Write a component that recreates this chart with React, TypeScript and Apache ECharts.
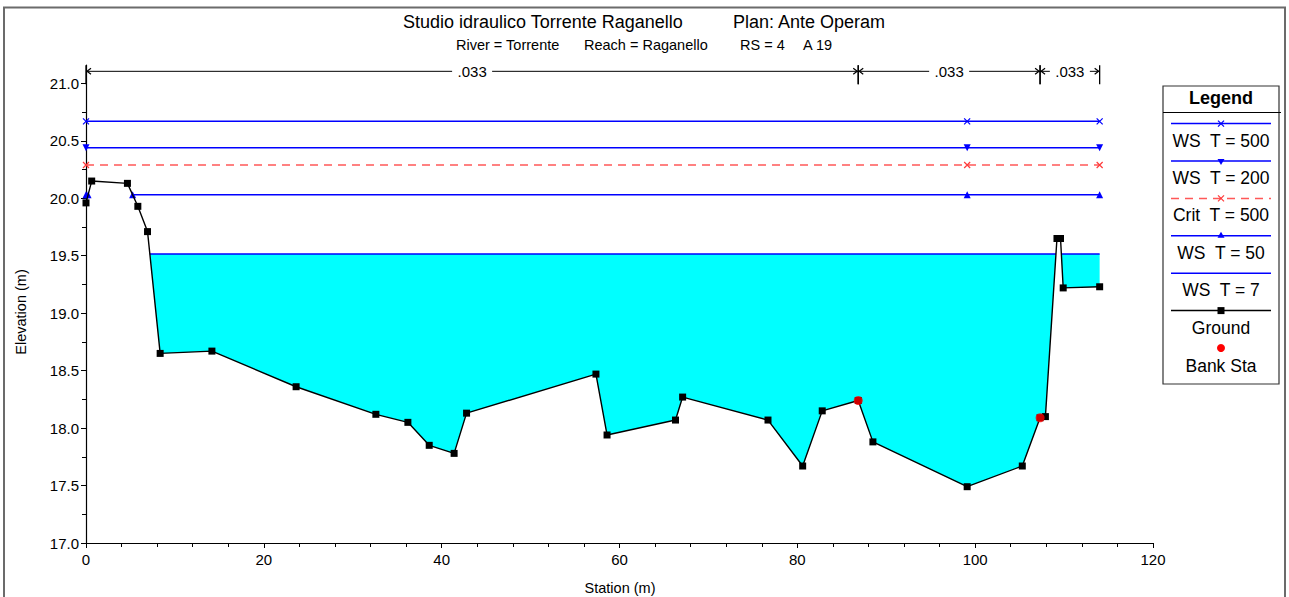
import { useEffect, useRef } from 'react';
import * as echarts from 'echarts';

// ---- data ----
const stations = [0, 0.64, 4.66, 5.83, 6.92, 8.34, 14.16, 23.63, 32.6, 36.2, 38.6, 41.4, 42.8, 57.35, 58.6, 66.3, 67.1, 76.7, 80.6, 82.8, 86.85, 88.5, 99.1, 105.3, 107.3, 107.9, 109.2, 109.6, 109.9, 114.0];
const elevations = [19.96, 20.15, 20.13, 19.93, 19.71, 18.65, 18.67, 18.36, 18.12, 18.05, 17.85, 17.78, 18.13, 18.47, 17.94, 18.07, 18.27, 18.07, 17.67, 18.15, 18.24, 17.88, 17.49, 17.67, 18.09, 18.10, 19.65, 19.65, 19.22, 19.23];
const bankStations = [86.85, 107.3];
const profileNames = ['WS  T = 500', 'WS  T = 200', 'Crit  T = 500', 'WS  T = 50', 'WS  T = 7'];
const profileLevels = [20.67, 20.44, 20.29, 20.03, 19.515];
const nBreaks = [0, 86.85, 107.3, 114];
const nValues = ['.033', '.033', '.033'];
const nLevel = 21.105;
const yTickValues = [17.0, 17.5, 18.0, 18.5, 19.0, 19.5, 20.0, 20.5, 21.0];
const titleParts = ['Studio idraulico Torrente Raganello', 'Plan: Ante Operam'];
const subtitleParts = ['River = Torrente', 'Reach = Raganello', 'RS = 4', 'A 19'];

// ---- styles ----
const BLUE = '#0000ff';
const RED = '#ff3b3b';
const FONT = 'Liberation Sans, Arial, sans-serif';
const XPATH = 'path://M0,0L10,10M10,0L0,10';
const DOWN_TRI = 'path://M0,0L10,0L5,9Z';
const profileStyles = [
  { color: BLUE, symbol: XPATH, dashed: false, marker: 'x' },
  { color: BLUE, symbol: DOWN_TRI, dashed: false, marker: 'down' },
  { color: RED, symbol: XPATH, dashed: true, marker: 'x' },
  { color: BLUE, symbol: 'triangle', dashed: false, marker: 'up' },
  { color: BLUE, symbol: 'none', dashed: false, marker: 'none' },
];

function wetRegions(level: number): number[][][] {
  const regions: number[][][] = [];
  let cur: number[][] | null = null;
  const n = stations.length;
  for (let i = 0; i < n; i++) {
    const x = stations[i];
    const z = elevations[i];
    if (i > 0) {
      const x0 = stations[i - 1];
      const z0 = elevations[i - 1];
      if ((z0 < level) !== (z < level)) {
        const xi = x0 + ((x - x0) * (level - z0)) / (z - z0);
        if (cur) {
          cur.push([xi, level]);
          regions.push(cur);
          cur = null;
        } else {
          cur = [[xi, level]];
        }
      }
    }
    if (z < level) {
      if (!cur) cur = [[x, level]];
      cur.push([x, z]);
    }
  }
  if (cur) {
    cur.push([stations[n - 1], level]);
    regions.push(cur);
  }
  return regions;
}

function groundAt(x: number): number {
  for (let i = 1; i < stations.length; i++) {
    if (x <= stations[i]) {
      const t = (x - stations[i - 1]) / (stations[i] - stations[i - 1]);
      return elevations[i - 1] + t * (elevations[i] - elevations[i - 1]);
    }
  }
  return elevations[elevations.length - 1];
}

function buildOption(): any {
  let minIdx = 0;
  elevations.forEach((e, i) => {
    if (e < elevations[minIdx]) minIdx = i;
  });
  const thalweg = stations[minIdx];

  const series: any[] = [];

  // water fill of the lowest profile
  const lowest = profileLevels.length - 1;
  const fillRegions = wetRegions(profileLevels[lowest]);
  series.push({
    type: 'custom',
    z: 1,
    silent: true,
    data: fillRegions.map((r, i) => [r[0][0], profileLevels[lowest], i]),
    renderItem: (_p: any, api: any) => {
      const reg = fillRegions[api.value(2)];
      return {
        type: 'polygon',
        shape: { points: reg.map((pt) => api.coord(pt)) },
        style: { fill: '#00ffff', stroke: 'none' },
      };
    },
  });

  profileLevels.forEach((lv, pi) => {
    const st = profileStyles[pi];
    wetRegions(lv).forEach((reg) => {
      const x0 = reg[0][0];
      const x1 = reg[reg.length - 1][0];
      const pts: number[][] = [[x0, lv]];
      if (thalweg > x0 && thalweg < x1) pts.push([thalweg, lv]);
      pts.push([x1, lv]);
      series.push({
        type: 'line',
        name: profileNames[pi],
        z: 3,
        data: pts,
        symbol: st.symbol,
        symbolSize: st.marker === 'x' ? 6 : 7,
        showSymbol: st.symbol !== 'none',
        lineStyle: { color: st.color, width: 1.5, type: st.dashed ? [8, 6] : 'solid', opacity: st.dashed ? 0.85 : 1 },
        itemStyle: {
          color: st.marker === 'x' ? 'none' : st.color,
          borderColor: st.color,
          borderWidth: st.marker === 'x' ? 1.2 : 0,
        },
      });
    });
  });

  series.push({
    type: 'line',
    name: 'Ground',
    z: 4,
    data: stations.map((s, i) => [s, elevations[i]]),
    symbol: 'rect',
    symbolSize: 7,
    lineStyle: { color: '#000', width: 1.4 },
    itemStyle: { color: '#000' },
  });

  series.push({
    type: 'scatter',
    name: 'Bank Sta',
    z: 10,
    zlevel: 0,
    data: bankStations.map((b) => [b, groundAt(b)]),
    symbol: 'circle',
    symbolSize: 9,
    itemStyle: { color: '#ff0000', borderWidth: 0 },
  });

  // Manning's n annotation
  series.push({
    type: 'custom',
    z: 6,
    silent: true,
    clip: false,
    data: nValues.map((v, i) => [nBreaks[i], nBreaks[i + 1], nLevel, i]),
    renderItem: (_p: any, api: any) => {
      const a = api.coord([api.value(0), api.value(2)]);
      const b = api.coord([api.value(1), api.value(2)]);
      const y = a[1];
      const label = nValues[api.value(3)];
      const halfW = label.length * 4 + 4;
      const mid = (a[0] + b[0]) / 2;
      const ls = { stroke: '#000', lineWidth: 1 };
      const children: any[] = [
        { type: 'line', shape: { x1: a[0], y1: y, x2: mid - halfW, y2: y }, style: ls },
        { type: 'line', shape: { x1: mid + halfW, y1: y, x2: b[0], y2: y }, style: ls },
        { type: 'polyline', shape: { points: [[a[0] + 5, y - 3], [a[0] + 1, y], [a[0] + 5, y + 3]] }, style: { stroke: '#000', lineWidth: 1.2, fill: 'none' } },
        { type: 'polyline', shape: { points: [[b[0] - 5, y - 3], [b[0] - 1, y], [b[0] - 5, y + 3]] }, style: { stroke: '#000', lineWidth: 1.2, fill: 'none' } },
        { type: 'line', shape: { x1: a[0], y1: y - 6, x2: a[0], y2: y + 13 }, style: { stroke: '#000', lineWidth: 1.3 } },
        { type: 'line', shape: { x1: b[0], y1: y - 6, x2: b[0], y2: y + 13 }, style: { stroke: '#000', lineWidth: 1.3 } },
        { type: 'text', x: mid, y: y, style: { text: label, fill: '#000', font: '15px ' + FONT, align: 'center', verticalAlign: 'middle' } },
      ];
      return { type: 'group', children };
    },
  });

  // ---- graphics: frame, titles, axis names, legend ----
  const graphic: any[] = [];
  graphic.push({ type: 'rect', shape: { x: 4, y: 7.5, width: 1281, height: 620 }, style: { fill: 'none', stroke: '#6b6b6b', lineWidth: 2 }, silent: true, z: 0 });
  const tFont = '18px ' + FONT;
  graphic.push({ type: 'text', x: 403, y: 22, style: { text: titleParts[0], font: tFont, fill: '#000', verticalAlign: 'middle' } });
  graphic.push({ type: 'text', x: 733, y: 22, style: { text: titleParts[1], font: tFont, fill: '#000', verticalAlign: 'middle' } });
  const sFont = '14.5px ' + FONT;
  const subX = [456, 584, 740, 803];
  subtitleParts.forEach((s, i) => {
    graphic.push({ type: 'text', x: subX[i], y: 45, style: { text: s, font: sFont, fill: '#000', verticalAlign: 'middle' } });
  });
  graphic.push({ type: 'text', x: 21, y: 312, rotation: Math.PI / 2, style: { text: 'Elevation (m)', font: '14.5px ' + FONT, fill: '#000', align: 'center', verticalAlign: 'middle' } });
  graphic.push({ type: 'text', x: 620, y: 588, style: { text: 'Station (m)', font: '14.5px ' + FONT, fill: '#000', align: 'center', verticalAlign: 'middle' } });

  // legend
  const lx0 = 1163, lx1 = 1279, ly0 = 86, ly1 = 384;
  const lcx = (lx0 + lx1) / 2;
  graphic.push({ type: 'rect', shape: { x: lx0, y: ly0, width: lx1 - lx0, height: ly1 - ly0 }, style: { fill: '#fff', stroke: '#333', lineWidth: 1.2 }, z: 10 });
  graphic.push({ type: 'line', shape: { x1: lx0, y1: 112.5, x2: lx1 + 2, y2: 112.5 }, style: { stroke: '#000', lineWidth: 1 }, z: 11 });
  graphic.push({ type: 'text', x: lcx, y: 98, style: { text: 'Legend', font: 'bold 18px ' + FONT, fill: '#000', align: 'center', verticalAlign: 'middle' }, z: 11 });
  const legendNames = [...profileNames, 'Ground'];
  const legendColors = [...profileStyles.map((s) => s.color), '#000'];
  const legendMarkers = [...profileStyles.map((s) => s.marker), 'square'];
  const legendDashed = [...profileStyles.map((s) => s.dashed), false];
  legendNames.forEach((nm, i) => {
    const y = 123.6 + i * 37.4;
    const col = legendColors[i];
    graphic.push({ type: 'line', shape: { x1: 1171, y1: y, x2: 1271, y2: y }, style: { stroke: col, lineWidth: 1.5, lineDash: legendDashed[i] ? [8, 6] : null, opacity: legendDashed[i] ? 0.85 : 1 }, z: 11 });
    const m = legendMarkers[i];
    if (m === 'x') {
      graphic.push({ type: 'line', shape: { x1: lcx - 3, y1: y - 3, x2: lcx + 3, y2: y + 3 }, style: { stroke: col, lineWidth: 1.2 }, z: 12 });
      graphic.push({ type: 'line', shape: { x1: lcx - 3, y1: y + 3, x2: lcx + 3, y2: y - 3 }, style: { stroke: col, lineWidth: 1.2 }, z: 12 });
    } else if (m === 'down') {
      graphic.push({ type: 'polygon', shape: { points: [[lcx - 3.5, y - 2], [lcx + 3.5, y - 2], [lcx, y + 4]] }, style: { fill: col }, z: 12 });
    } else if (m === 'up') {
      graphic.push({ type: 'polygon', shape: { points: [[lcx - 3.5, y + 2], [lcx + 3.5, y + 2], [lcx, y - 4]] }, style: { fill: col }, z: 12 });
    } else if (m === 'square') {
      graphic.push({ type: 'rect', shape: { x: lcx - 3.5, y: y - 3.5, width: 7, height: 7 }, style: { fill: col }, z: 12 });
    }
    graphic.push({ type: 'text', x: lcx, y: y + 17, style: { text: nm, font: '17.5px ' + FONT, fill: '#000', align: 'center', verticalAlign: 'middle' }, z: 11 });
  });
  graphic.push({ type: 'circle', shape: { cx: lcx, cy: 348, r: 4 }, style: { fill: '#ff0000' }, z: 12 });
  graphic.push({ type: 'text', x: lcx, y: 366, style: { text: 'Bank Sta', font: '17.5px ' + FONT, fill: '#000', align: 'center', verticalAlign: 'middle' }, z: 11 });

  return {
    animation: false,
    backgroundColor: '#fff',
    textStyle: { fontFamily: FONT },
    grid: { left: 86, right: 136, top: 65, bottom: 54, containLabel: false },
    xAxis: {
      type: 'value',
      min: 0,
      max: 120,
      interval: 20,
      axisLine: { show: true, lineStyle: { color: '#000', width: 1.2 } },
      axisTick: { show: true, inside: false, length: 5, lineStyle: { color: '#000' } },
      minorTick: { show: true, splitNumber: 5, length: 4, lineStyle: { color: '#000' } },
      splitLine: { show: false },
      axisLabel: { color: '#000', fontSize: 15, margin: 9, fontFamily: FONT },
    },
    yAxis: {
      type: 'value',
      min: 17,
      max: 21.16,
      interval: 0.5,
      axisLine: { show: true, lineStyle: { color: '#000', width: 1.2 } },
      axisTick: { show: true, inside: false, length: 5, lineStyle: { color: '#000' }, customValues: yTickValues },
      minorTick: { show: true, splitNumber: 2, length: 4, lineStyle: { color: '#000' } },
      splitLine: { show: false },
      axisLabel: { color: '#000', fontSize: 15, margin: 7, fontFamily: FONT, customValues: yTickValues, formatter: (v: number) => v.toFixed(1) },
    },
    graphic,
    series,
  };
}

export default function App() {
  const ref = useRef<HTMLDivElement>(null);
  useEffect(() => {
    if (!ref.current) return;
    const chart = echarts.init(ref.current, null, { renderer: 'svg' });
    chart.setOption(buildOption());
    return () => chart.dispose();
  }, []);
  return <div ref={ref} style={{ position: 'fixed', left: 0, top: 0, width: 1289, height: 597, background: '#fff' }} />;
}
